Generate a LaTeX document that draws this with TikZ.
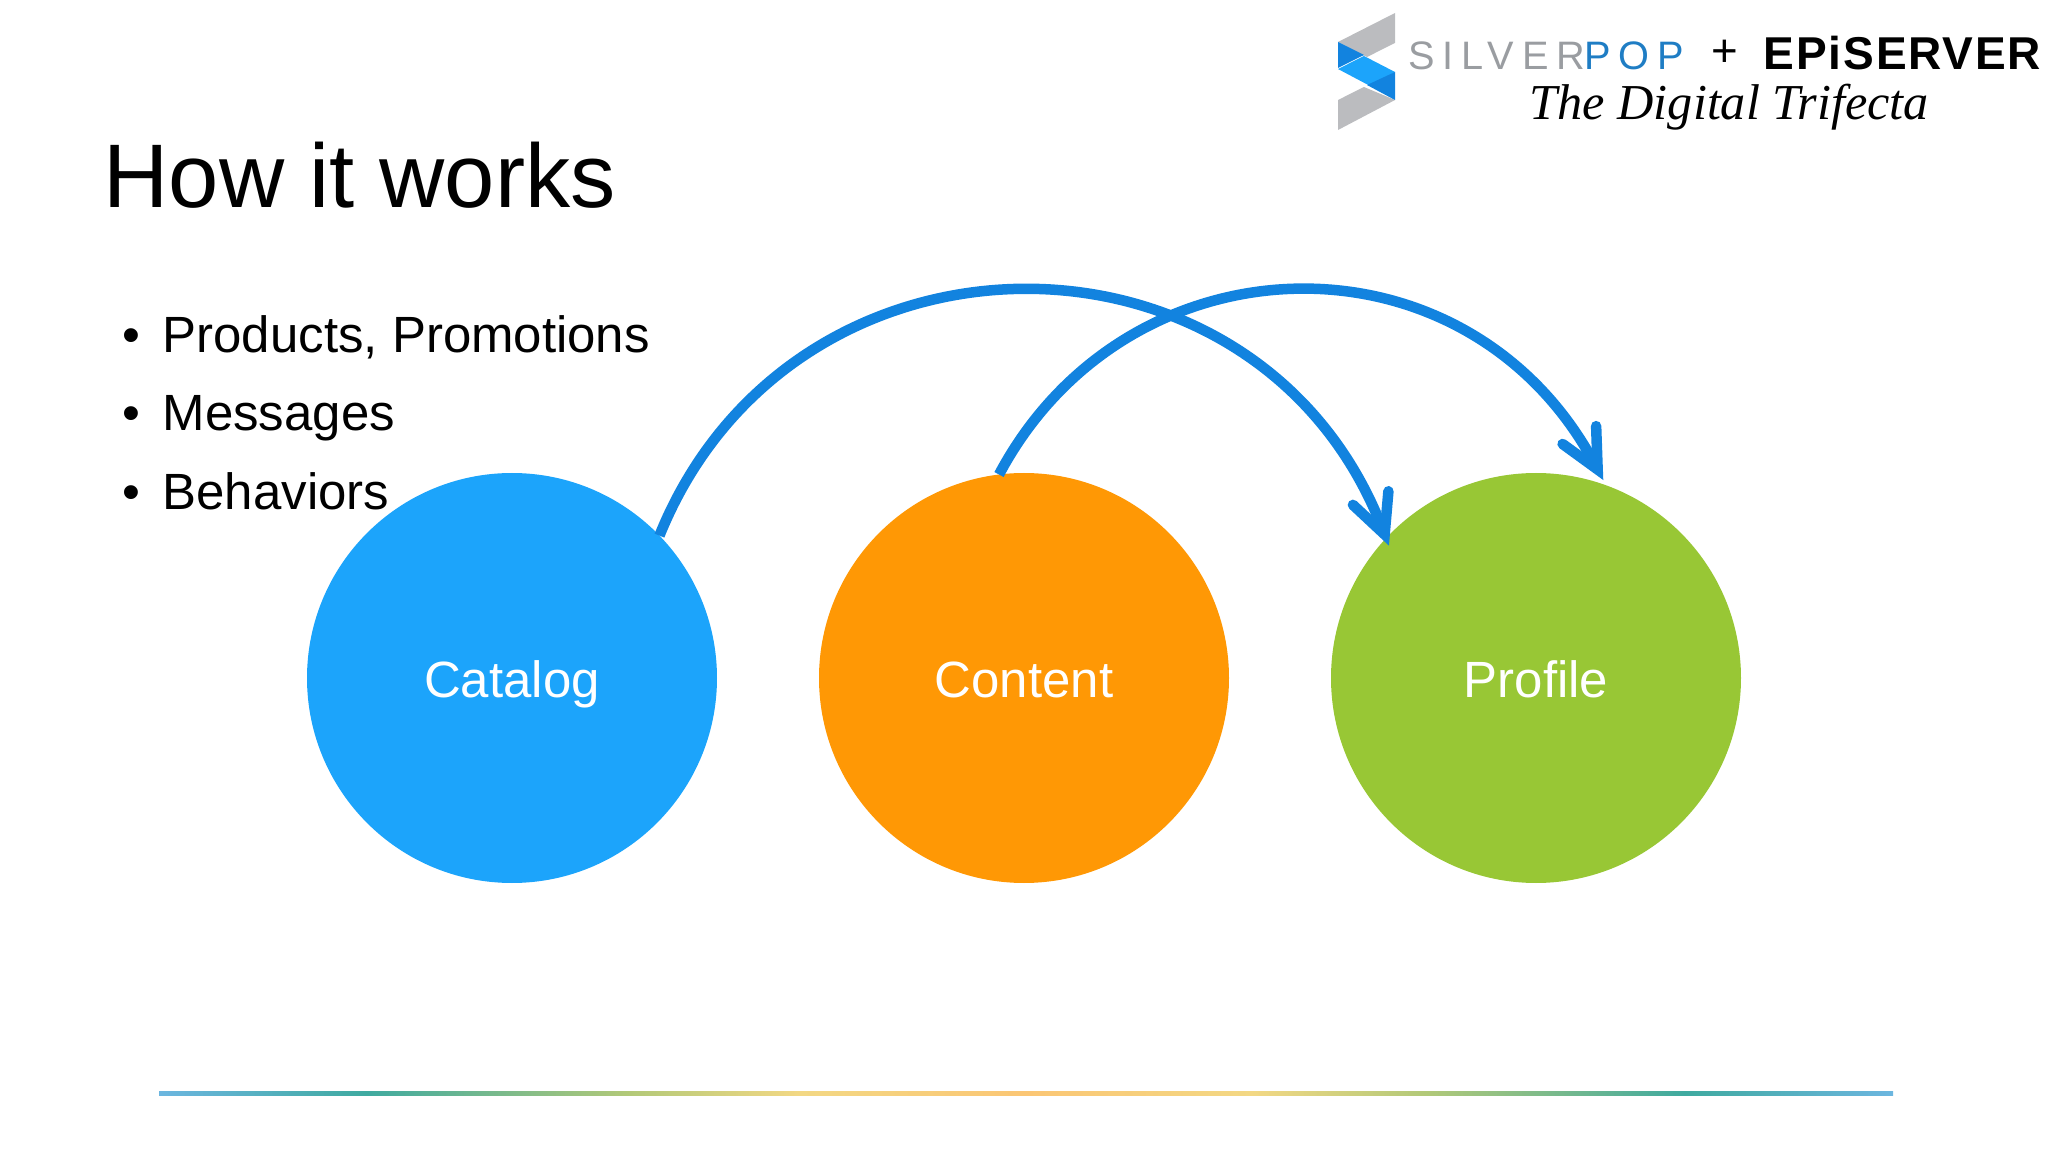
\documentclass[tikz,border=0pt]{standalone}
\usepackage{fontspec}
\setmainfont{Liberation Sans}
\newfontfamily\silverfont[LetterSpace=19]{Liberation Sans}
\newfontfamily\epifont[LetterSpace=4]{Liberation Sans}
\newfontfamily\handfont{Liberation Serif}
\usetikzlibrary{arrows.meta}
\definecolor{catalogblue}{HTML}{1CA4FB}
\definecolor{contentorange}{HTML}{FF9805}
\definecolor{profilegreen}{HTML}{98C735}
\definecolor{arcblue}{HTML}{1283DF}
\definecolor{logogrey}{HTML}{9A9DA1}
\definecolor{iconsgrey}{HTML}{BBBCBF}
\definecolor{logoblue}{HTML}{1F7DC4}
\definecolor{ruleend}{HTML}{6CB6E0}
\definecolor{ruleteal}{HTML}{3FAAA0}
\definecolor{rulegreen}{HTML}{B2C978}
\definecolor{ruleyellow}{HTML}{F3D884}
\definecolor{ruleorange}{HTML}{FBC674}
\pgfdeclarehorizontalshading{ruleshade}{100bp}{
  color(0bp)=(ruleend); color(25bp)=(ruleend); color(31bp)=(ruleteal);
  color(38.5bp)=(rulegreen); color(43.5bp)=(ruleyellow);
  color(50bp)=(ruleorange); color(56.5bp)=(ruleyellow);
  color(61.5bp)=(rulegreen); color(69bp)=(ruleteal);
  color(75bp)=(ruleend); color(100bp)=(ruleend)}
\tikzset{
  ball/.style={circle,minimum size=4.1cm,inner sep=0pt,outer sep=0pt,text=white,
    font=\fontsize{14.5}{17}\selectfont,text height=0.39cm,text depth=0pt},
  bullet item/.style={anchor=base west,inner sep=0pt,font=\fontsize{14.5}{17}\selectfont},
  arc line/.style={arcblue,line width=0.105cm,
    -{Straight Barb[length=3.9mm,width=3.8mm,line cap=round]}},
}
\begin{document}
\begin{tikzpicture}
\useasboundingbox (0,0) rectangle (20.48,-11.52);
% title and list
\node[anchor=base west,inner sep=0pt,font=\fontsize{25.7}{30}\selectfont] (title) at (1.03,-2.08) {How it works};
\node[bullet item] (item1) at (1.62,-3.53) {\llap{\textbullet\hspace{0.22cm}}Products, Promotions};
\node[bullet item] (item2) at (1.62,-4.31) {\llap{\textbullet\hspace{0.22cm}}Messages};
\node[bullet item] (item3) at (1.62,-5.10) {\llap{\textbullet\hspace{0.22cm}}Behaviors};
% circles
\node[ball,fill=catalogblue] (catalog) at (5.12,-6.78) {Catalog};
\node[ball,fill=contentorange] (content) at (10.24,-6.78) {Content};
\node[ball,fill=profilegreen] (profile) at (15.36,-6.78) {Profile};
% arcs
\draw[arc line,shorten >=-0.08cm] (catalog.44) to[out=68,in=111,distance=3.54cm] (profile.137);
\draw[arc line,shorten >=0.06cm] (content.97) to[out=62,in=118,out distance=2.75cm,in distance=2.95cm] (profile.70);
% logo
\fill[iconsgrey] (13.38,-0.42) -- (13.95,-0.13) -- (13.95,-0.43) -- (13.67,-0.57) -- cycle;
\fill[iconsgrey] (13.38,-1.00) -- (13.64,-0.87) -- (13.95,-1.00) -- (13.38,-1.30) -- cycle;
\fill[arcblue] (13.38,-0.42) -- (13.64,-0.55) -- (13.38,-0.68) -- cycle;
\fill[catalogblue] (13.38,-0.69) -- (13.64,-0.56) -- (13.95,-0.72) -- (13.72,-0.87) -- cycle;
\fill[arcblue] (13.95,-0.72) -- (13.95,-1.00) -- (13.67,-0.85) -- cycle;
\node[anchor=base west,inner sep=0pt,font=\silverfont\fontsize{11.3}{13}\selectfont] (silver) at (14.08,-0.70) {\textcolor{logogrey}{SILVER}\textcolor{logoblue}{POP}};
\node[anchor=base,inner sep=0pt,font=\fontsize{13}{15}\selectfont] (plus) at (17.25,-0.67) {+};
\node[anchor=base west,inner sep=0pt,font=\epifont\bfseries\fontsize{13.1}{15}\selectfont] (epi) at (17.63,-0.70) {EPiSERVER};
\node[anchor=base west,inner sep=0pt,font=\handfont\itshape\fontsize{14.3}{16}\selectfont] (trifecta) at (15.29,-1.20) {The Digital Trifecta};
% rule
\shade[shading=ruleshade] (1.59,-10.91) rectangle (18.93,-10.95);
\end{tikzpicture}
\end{document}
